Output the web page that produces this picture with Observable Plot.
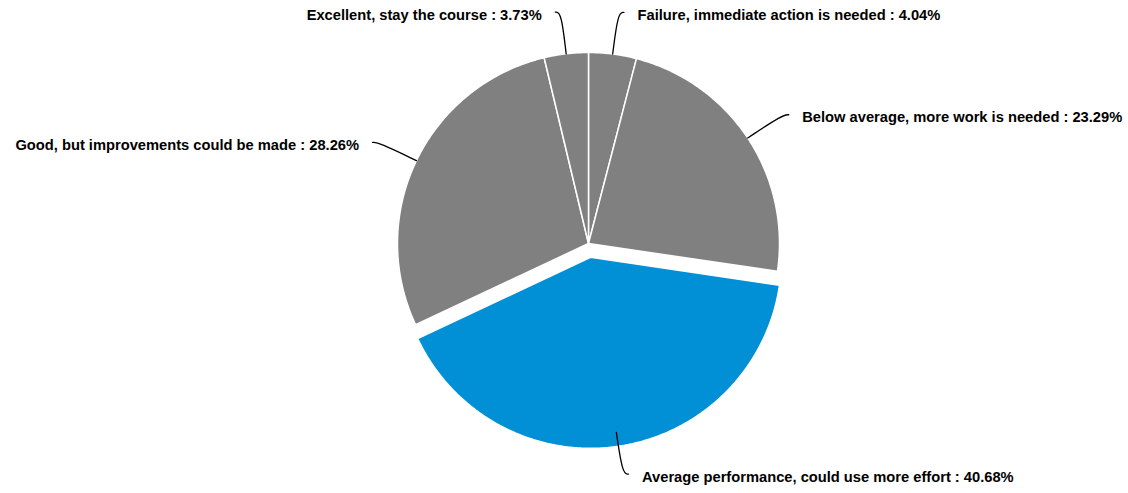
<!DOCTYPE html>
<html>
<head>
<meta charset="utf-8">
<script src="https://cdn.jsdelivr.net/npm/d3@7"></script>
<script src="https://cdn.jsdelivr.net/npm/@observablehq/plot@0.6"></script>
<style>
  html, body { margin: 0; padding: 0; background: #fff; }
  #chart { width: 1128px; height: 493px; }
</style>
</head>
<body>
<div id="chart"></div>
<script>
// ---- data ----
const categories = [
  "Failure, immediate action is needed",
  "Below average, more work is needed",
  "Average performance, could use more effort",
  "Good, but improvements could be made",
  "Excellent, stay the course"
];
const percents = [4.04, 23.29, 40.68, 28.26, 3.73];
const explodedCategory = "Average performance, could use more effort";

// ---- layout (pixels) ----
const W = 1128, H = 493;
const CX = 588, CY = 243, R = 191;
const EXPLODE = 14;          // px
const ELBOW = 1.22;          // radius multiple for leader elbow
const TAIL = 6;              // px horizontal tail of leader
const GAP = 13.5;            // px between leader end and label

const pie = d3.pie().sort(null).value(d => d)(percents);

const slices = [];
const leaders = [];
const labelRows = [];
pie.forEach((p, i) => {
  const name = categories[i];
  const mid = (p.startAngle + p.endAngle) / 2;
  const off = name === explodedCategory ? EXPLODE / R : 0;
  const ox = off * Math.sin(mid), oy = off * Math.cos(mid);
  const n = Math.max(4, Math.ceil((p.endAngle - p.startAngle) / 0.01));
  slices.push({name, x: ox, y: oy});
  for (let k = 0; k <= n; k++) {
    const a = p.startAngle + (p.endAngle - p.startAngle) * k / n;
    slices.push({name, x: ox + Math.sin(a), y: oy + Math.cos(a)});
  }
  const side = Math.sin(mid) >= 0 ? 1 : -1;
  const sx = Math.sin(mid), sy = Math.cos(mid);
  const ex = ELBOW * sx, ey = ELBOW * sy;
  const endX = ex + side * TAIL / R;
  leaders.push({name, x: sx, y: sy}, {name, x: ex, y: ey}, {name, x: endX, y: ey});
  labelRows.push({
    name, x: endX, y: ey, side,
    text: `${name} : ${percents[i].toFixed(2)}%`
  });
});

const chart = Plot.plot({
  width: W,
  height: H,
  margin: 0,
  x: {axis: null, domain: [-CX / R, (W - CX) / R]},
  y: {axis: null, domain: [-(H - CY) / R, CY / R]},
  style: {background: "#ffffff"},
  marks: [
    Plot.line(slices, {
      x: "x", y: "y", z: "name",
      fill: d => d.name === explodedCategory ? "#0190d5" : "#808080",
      stroke: "#ffffff", strokeWidth: 1.5, curve: "linear-closed"
    }),
    Plot.line(leaders, {
      x: "x", y: "y", z: "name",
      stroke: "#000000", strokeWidth: 1.3, curve: "basis"
    }),
    Plot.text(labelRows.filter(d => d.side > 0), {
      x: "x", y: "y", text: "text", textAnchor: "start", dx: GAP, dy: 3,
      fontSize: 14.7, fontWeight: "bold", fill: "#000000",
      fontFamily: "'Liberation Sans', Arial, sans-serif"
    }),
    Plot.text(labelRows.filter(d => d.side < 0), {
      x: "x", y: "y", text: "text", textAnchor: "end", dx: -GAP, dy: 3,
      fontSize: 14.7, fontWeight: "bold", fill: "#000000",
      fontFamily: "'Liberation Sans', Arial, sans-serif"
    })
  ]
});
document.getElementById("chart").appendChild(chart);
</script>
</body>
</html>
